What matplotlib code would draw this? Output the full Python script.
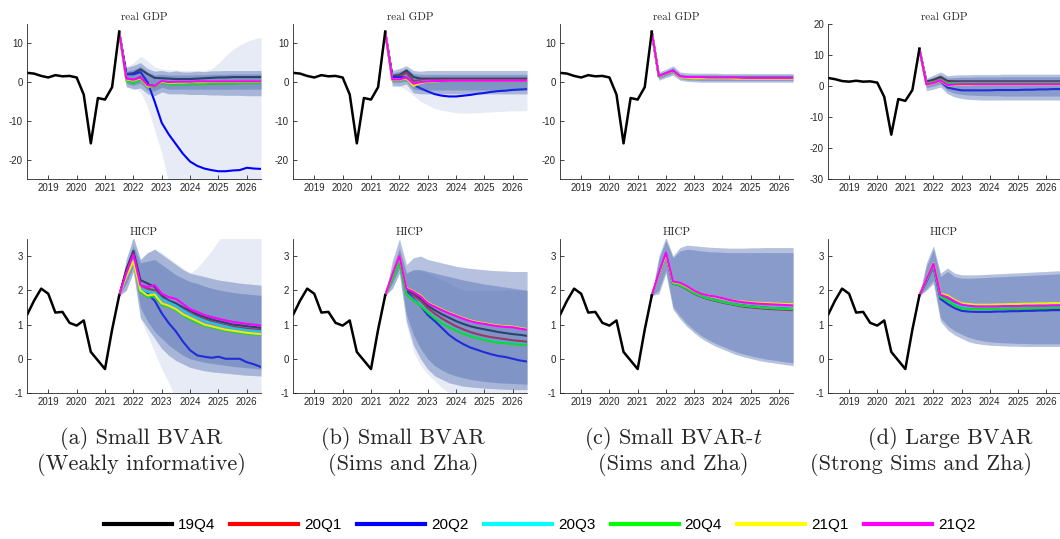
import matplotlib

matplotlib.use("Agg")
import matplotlib.pyplot as plt
import numpy as np
from matplotlib.lines import Line2D

plt.rcParams["axes.unicode_minus"] = False
plt.rcParams["mathtext.fontset"] = "cm"
plt.rcParams["font.family"] = ["Liberation Sans", "DejaVu Sans"]

VINTAGES = ["19Q4", "20Q1", "20Q2", "20Q3", "20Q4", "21Q1", "21Q2"]
VINTAGE_COLORS = ["#000000", "#ff0000", "#0000ff", "#00ffff", "#00ff00", "#ffff00", "#ff00ff"]

# observed data, 2018Q2 .. 2021Q3 (quarterly, y/y growth)
gdp_hist_small = [2.4, 2.2, 1.6, 1.2, 1.8, 1.5, 1.6, 1.2, -3.2, -15.8, -4.1, -4.5, -1.3, 13.0]
gdp_hist_large = [2.6, 2.2, 1.6, 1.4, 1.7, 1.4, 1.5, 1.1, -3.5, -15.7, -4.2, -4.8, -1.3, 12.0]
hicp_hist = [1.28, 1.7, 2.05, 1.9, 1.35, 1.37, 1.05, 0.97, 1.12, 0.2, -0.05, -0.3, 0.85, 1.85]

# ---------------- real GDP forecasts (one list per vintage) ----------------
gdp_a_lines = [
    [13.0, 2.1, 2.3, 3.3, 2.1, 1.1, 1.0, 0.9, 0.8, 0.8, 0.8, 0.9, 1.0, 1.1, 1.2, 1.2, 1.3, 1.3, 1.3, 1.3, 1.3],
    [13.0, 1.0, 0.6, 1.3, -0.7, -0.9, 0.0, -0.4, -0.5, -0.5, -0.5, -0.5, -0.4, -0.4, -0.3, -0.3, -0.3, -0.2, -0.2, -0.2, -0.2],
    [13.0, 2.0, 2.0, 2.6, 0.0, -5.0, -10.5, -13.5, -16.0, -18.5, -20.5, -21.6, -22.3, -22.7, -23.0, -23.0, -22.8, -22.7, -22.1, -22.3, -22.4],
    [13.0, 0.8, 0.3, 1.0, -1.0, -1.0, 0.0, -0.4, -0.3, -0.3, -0.3, -0.2, -0.2, -0.1, -0.1, 0.0, 0.0, 0.0, 0.0, 0.0, 0.0],
    [13.0, 0.4, -0.3, 0.7, -1.3, -1.2, -0.2, -0.6, -0.6, -0.6, -0.5, -0.5, -0.5, -0.4, -0.4, -0.4, -0.4, -0.3, -0.3, -0.3, -0.3],
    [13.0, 0.7, 0.4, 1.0, -1.1, -1.0, 0.1, -0.2, -0.1, -0.1, 0.0, 0.0, 0.0, 0.1, 0.1, 0.1, 0.1, 0.1, 0.1, 0.1, 0.1],
    [13.0, 0.9, 0.6, 1.2, -0.8, -1.0, 0.3, 0.0, 0.1, 0.1, 0.1, 0.2, 0.2, 0.2, 0.2, 0.2, 0.2, 0.2, 0.2, 0.2, 0.2],
]
gdp_a_outer = (
    [13.0, -1.2, -1.8, -1.5, -3.0, -3.5, -2.5, -3.0, -3.0, -3.0, -3.2, -3.2, -3.2, -3.3, -3.3, -3.4, -3.4, -3.4, -3.5, -3.5, -3.5],
    [13.0, 3.8, 4.3, 5.0, 3.5, 2.8, 3.0, 2.6, 2.9, 2.6, 2.6, 2.8, 2.7, 2.9, 2.9, 3.0, 3.0, 3.0, 3.0, 3.0, 3.0],
)
gdp_a_inner = (
    [13.0, -0.3, -0.8, -0.2, -2.0, -2.3, -1.3, -1.8, -1.8, -1.8, -1.8, -1.8, -1.8, -1.8, -1.8, -1.8, -1.8, -1.8, -1.8, -1.8, -1.8],
    [13.0, 2.8, 3.2, 4.0, 2.6, 1.8, 2.0, 1.8, 1.8, 1.8, 1.8, 1.9, 1.9, 2.0, 2.0, 2.0, 2.1, 2.1, 2.1, 2.1, 2.1],
)
gdp_a_wide = (
    [13.0, -1.0, -1.5, -2.5, -6.3, -12.4, -18.4, -26.0, -32.0, -40.0, -40.0, -40.0, -40.0, -40.0, -40.0, -40.0, -40.0, -40.0, -40.0, -40.0, -40.0],
    [13.0, 4.0, 5.0, 6.7, 5.5, 4.0, 3.4, 3.2, 3.1, 3.0, 3.0, 3.0, 3.0, 3.4, 4.9, 6.8, 8.4, 9.6, 10.5, 11.1, 11.6],
)

gdp_b_lines = [
    [13.0, 1.6, 1.8, 3.0, 1.3, 0.9, 0.9, 0.9, 0.9, 0.9, 0.9, 0.9, 0.9, 0.9, 0.9, 0.9, 0.9, 0.9, 0.9, 0.9, 0.9],
    [13.0, 1.3, 1.5, 2.4, 0.3, 0.5, 0.6, 0.6, 0.6, 0.6, 0.6, 0.6, 0.6, 0.6, 0.6, 0.6, 0.6, 0.6, 0.6, 0.6, 0.6],
    [13.0, 1.3, 1.3, 1.2, -0.7, -1.6, -2.4, -3.1, -3.5, -3.7, -3.7, -3.5, -3.3, -3.0, -2.8, -2.5, -2.3, -2.2, -2.0, -1.9, -1.8],
    [13.0, 0.6, 0.6, 1.0, -0.5, 0.1, 0.3, 0.3, 0.3, 0.3, 0.3, 0.3, 0.3, 0.3, 0.3, 0.3, 0.3, 0.3, 0.3, 0.3, 0.3],
    [13.0, 0.5, 0.5, 0.9, -0.7, 0.0, 0.2, 0.2, 0.2, 0.2, 0.2, 0.2, 0.2, 0.2, 0.2, 0.2, 0.2, 0.2, 0.2, 0.2, 0.2],
    [13.0, 0.6, 0.6, 1.0, -1.0, -0.2, 0.1, 0.2, 0.3, 0.3, 0.3, 0.3, 0.3, 0.3, 0.3, 0.3, 0.3, 0.3, 0.3, 0.3, 0.3],
    [13.0, 0.7, 0.7, 1.2, -0.4, 0.0, 0.2, 0.3, 0.3, 0.35, 0.35, 0.35, 0.35, 0.35, 0.35, 0.35, 0.35, 0.35, 0.35, 0.35, 0.35],
]
gdp_b_outer = (
    [13.0, -1.0, -1.0, -0.5, -2.8, -3.0, -3.0, -3.0, -3.0, -3.0, -3.0, -3.0, -3.0, -3.0, -3.0, -3.0, -3.0, -3.0, -3.0, -3.0, -3.0],
    [13.0, 3.0, 3.5, 4.2, 3.0, 2.8, 3.0, 3.0, 3.0, 3.0, 3.0, 3.0, 3.0, 3.0, 3.0, 3.0, 3.0, 3.0, 3.0, 3.0, 3.0],
)
gdp_b_inner = (
    [13.0, 0.0, 0.0, 0.2, -1.8, -2.0, -2.0, -2.0, -2.0, -2.0, -2.0, -2.0, -2.0, -2.0, -2.0, -2.0, -2.0, -2.0, -2.0, -2.0, -2.0],
    [13.0, 2.3, 2.7, 3.5, 2.2, 2.0, 2.0, 2.0, 2.0, 2.0, 2.0, 2.0, 2.0, 2.0, 2.0, 2.0, 2.0, 2.0, 2.0, 2.0, 2.0],
)
gdp_b_wide = (
    [13.0, -0.5, -1.0, -2.0, -3.5, -5.0, -5.9, -6.8, -7.3, -7.6, -7.9, -8.0, -8.0, -7.9, -7.8, -7.7, -7.6, -7.5, -7.4, -7.4, -7.4],
    [13.0, 2.5, 2.8, 3.5, 2.0, 1.5, 1.5, 1.5, 1.5, 1.5, 1.5, 1.5, 1.5, 1.5, 1.5, 1.5, 1.5, 1.5, 1.5, 1.5, 1.5],
)

gdp_c_common = [13.0, 1.5, 2.2, 2.9, 1.4, 1.2, 1.2, 1.2, 1.2, 1.2, 1.2, 1.1, 1.1, 1.1, 1.1, 1.1, 1.1, 1.1, 1.1, 1.1, 1.1]
gdp_c_21q1 = [13.0, 1.5, 2.2, 2.9, 1.3, 1.1, 1.0, 1.0, 1.0, 1.0, 1.0, 1.0, 0.9, 0.9, 0.9, 0.9, 0.9, 0.9, 0.9, 0.9, 0.9]
gdp_c_21q2 = [13.0, 1.6, 2.3, 3.0, 1.5, 1.3, 1.3, 1.3, 1.2, 1.2, 1.2, 1.2, 1.2, 1.1, 1.1, 1.1, 1.1, 1.1, 1.1, 1.1, 1.1]
gdp_c_lines = [gdp_c_common, gdp_c_common, gdp_c_common, gdp_c_common, gdp_c_common, gdp_c_21q1, gdp_c_21q2]
gdp_c_outer = (
    [13.0, 0.5, 1.2, 1.8, 0.5, 0.2, 0.1, 0.0, 0.0, 0.0, 0.0, 0.0, 0.0, 0.0, 0.0, 0.0, 0.0, 0.0, 0.0, 0.0, 0.0],
    [13.0, 2.6, 3.3, 4.2, 2.6, 2.4, 2.3, 2.3, 2.3, 2.3, 2.2, 2.2, 2.2, 2.2, 2.2, 2.2, 2.2, 2.2, 2.2, 2.2, 2.2],
)
gdp_c_inner = (
    [13.0, 0.9, 1.6, 2.3, 0.9, 0.6, 0.5, 0.4, 0.4, 0.4, 0.4, 0.4, 0.4, 0.4, 0.4, 0.4, 0.4, 0.4, 0.4, 0.4, 0.4],
    [13.0, 2.2, 2.9, 3.7, 2.1, 1.9, 1.9, 1.9, 1.9, 1.9, 1.8, 1.8, 1.8, 1.8, 1.8, 1.8, 1.8, 1.8, 1.8, 1.8, 1.8],
)

gdp_d_lines = [
    [12.0, 1.4, 2.0, 2.9, 1.6, 1.5, 1.5, 1.5, 1.5, 1.5, 1.5, 1.5, 1.5, 1.5, 1.5, 1.5, 1.5, 1.5, 1.5, 1.5, 1.5],
    [12.0, 1.0, 1.5, 2.4, 1.2, 1.1, 1.1, 1.1, 1.1, 1.1, 1.1, 1.1, 1.1, 1.1, 1.1, 1.1, 1.1, 1.1, 1.1, 1.1, 1.1],
    [12.0, 0.6, 1.0, 1.5, -0.5, -1.0, -1.4, -1.4, -1.4, -1.4, -1.4, -1.3, -1.3, -1.3, -1.3, -1.2, -1.2, -1.1, -1.1, -1.0, -1.0],
    [12.0, 0.8, 1.2, 2.0, 0.8, 0.9, 1.0, 1.0, 1.0, 1.0, 1.0, 1.0, 1.0, 1.0, 1.0, 1.0, 1.0, 1.0, 1.0, 1.0, 1.0],
    [12.0, 0.8, 1.2, 2.0, 0.7, 0.8, 0.9, 0.9, 0.9, 0.9, 0.9, 0.9, 0.9, 0.9, 0.9, 0.9, 0.9, 0.9, 0.9, 0.9, 0.9],
    [12.0, 0.4, 0.9, 1.6, 0.2, 0.3, 0.4, 0.4, 0.5, 0.5, 0.5, 0.5, 0.5, 0.5, 0.5, 0.5, 0.5, 0.5, 0.5, 0.5, 0.5],
    [12.0, 0.5, 1.0, 1.8, 0.3, 0.5, 0.6, 0.6, 0.6, 0.6, 0.6, 0.6, 0.6, 0.6, 0.6, 0.6, 0.6, 0.6, 0.6, 0.6, 0.6],
]
gdp_d_outer = (
    [12.0, -1.5, -1.0, -0.3, -2.5, -3.5, -4.0, -4.3, -4.4, -4.5, -4.5, -4.5, -4.5, -4.5, -4.5, -4.5, -4.5, -4.5, -4.5, -4.5, -4.5],
    [12.0, 2.5, 3.5, 4.5, 3.3, 3.5, 3.6, 3.6, 3.7, 3.7, 3.7, 3.7, 3.8, 3.8, 3.8, 3.8, 3.8, 3.8, 3.8, 3.8, 3.8],
)
gdp_d_inner = (
    [12.0, -0.5, 0.0, 0.7, -1.5, -2.3, -2.7, -2.9, -3.0, -3.1, -3.1, -3.1, -3.2, -3.2, -3.2, -3.2, -3.2, -3.2, -3.2, -3.2, -3.2],
    [12.0, 2.0, 2.8, 3.6, 2.6, 2.7, 2.8, 2.8, 2.9, 2.9, 2.9, 2.9, 3.0, 3.0, 3.0, 3.0, 3.0, 3.0, 3.0, 3.0, 3.0],
)

# ---------------- HICP forecasts ----------------
hicp_a_lines = [
    [1.85, 2.6, 3.15, 2.3, 2.2, 2.1, 1.85, 1.7, 1.62, 1.5, 1.4, 1.3, 1.22, 1.15, 1.1, 1.05, 1.0, 0.98, 0.95, 0.93, 0.9],
    [1.85, 2.5, 3.05, 2.15, 2.05, 2.0, 1.78, 1.66, 1.56, 1.44, 1.33, 1.24, 1.16, 1.09, 1.03, 0.98, 0.94, 0.91, 0.88, 0.86, 0.84],
    [1.85, 2.45, 3.0, 2.05, 1.9, 1.7, 1.33, 1.04, 0.8, 0.5, 0.25, 0.1, 0.06, 0.03, 0.06, 0.0, 0.0, 0.0, -0.1, -0.16, -0.24],
    [1.85, 2.45, 2.95, 2.05, 1.95, 1.95, 1.75, 1.65, 1.55, 1.42, 1.3, 1.2, 1.12, 1.05, 1.0, 0.95, 0.9, 0.87, 0.84, 0.82, 0.8],
    [1.85, 2.4, 2.85, 1.95, 1.8, 1.83, 1.58, 1.52, 1.42, 1.27, 1.15, 1.05, 0.97, 0.92, 0.87, 0.82, 0.79, 0.76, 0.73, 0.72, 0.7],
    [1.85, 2.4, 2.85, 2.0, 1.85, 1.88, 1.62, 1.55, 1.45, 1.3, 1.2, 1.1, 1.0, 0.95, 0.9, 0.85, 0.82, 0.79, 0.76, 0.74, 0.72],
    [1.85, 2.5, 3.05, 2.15, 2.1, 2.15, 1.9, 1.8, 1.75, 1.6, 1.45, 1.37, 1.28, 1.22, 1.17, 1.12, 1.08, 1.05, 1.02, 1.0, 0.97],
]
hicp_a_outer = (
    [1.85, 2.0, 2.55, 1.2, 0.9, 0.6, 0.3, 0.1, -0.05, -0.15, -0.25, -0.3, -0.35, -0.38, -0.4, -0.42, -0.44, -0.46, -0.48, -0.49, -0.5],
    [1.85, 2.9, 3.55, 2.9, 3.1, 3.2, 3.05, 2.9, 2.75, 2.6, 2.5, 2.45, 2.4, 2.35, 2.3, 2.27, 2.24, 2.21, 2.19, 2.17, 2.15],
)
hicp_a_inner = (
    [1.85, 2.2, 2.7, 1.5, 1.1, 0.8, 0.6, 0.4, 0.25, 0.1, 0.0, -0.05, -0.1, -0.13, -0.16, -0.19, -0.22, -0.24, -0.26, -0.28, -0.3],
    [1.85, 2.7, 3.3, 2.8, 2.85, 2.9, 2.75, 2.6, 2.45, 2.35, 2.25, 2.2, 2.12, 2.06, 2.01, 1.97, 1.94, 1.91, 1.89, 1.87, 1.85],
)
hicp_a_wide = (
    [1.85, 2.0, 2.55, 1.2, 0.7, 0.2, -0.3, -0.7, -1.2, -1.6, -2.0, -2.0, -2.0, -2.0, -2.0, -2.0, -2.0, -2.0, -2.0, -2.0, -2.0],
    [1.85, 2.9, 3.55, 2.9, 3.1, 3.2, 3.1, 2.95, 2.8, 2.65, 2.5, 2.65, 2.9, 3.15, 3.45, 3.75, 4.0, 4.2, 4.4, 4.5, 4.6],
)

hicp_b_lines = [
    [1.85, 2.45, 3.0, 2.0, 1.9, 1.75, 1.55, 1.42, 1.3, 1.2, 1.1, 1.02, 0.95, 0.9, 0.86, 0.82, 0.78, 0.75, 0.72, 0.7, 0.67],
    [1.85, 2.4, 2.95, 1.95, 1.85, 1.7, 1.48, 1.32, 1.18, 1.06, 0.95, 0.86, 0.78, 0.72, 0.67, 0.63, 0.6, 0.57, 0.54, 0.52, 0.5],
    [1.85, 2.4, 2.95, 1.95, 1.75, 1.55, 1.28, 1.1, 0.9, 0.7, 0.55, 0.43, 0.33, 0.26, 0.19, 0.13, 0.08, 0.05, 0.0, -0.05, -0.08],
    [1.85, 2.35, 2.85, 1.9, 1.72, 1.57, 1.37, 1.2, 1.05, 0.94, 0.84, 0.75, 0.68, 0.62, 0.57, 0.52, 0.49, 0.47, 0.45, 0.43, 0.42],
    [1.85, 2.3, 2.8, 1.88, 1.7, 1.55, 1.35, 1.18, 1.03, 0.92, 0.82, 0.73, 0.66, 0.6, 0.55, 0.5, 0.47, 0.45, 0.43, 0.41, 0.4],
    [1.85, 2.45, 3.0, 2.07, 1.97, 1.85, 1.64, 1.54, 1.44, 1.35, 1.27, 1.19, 1.12, 1.07, 1.04, 1.0, 0.97, 0.95, 0.94, 0.9, 0.87],
    [1.85, 2.45, 3.0, 2.05, 1.95, 1.82, 1.62, 1.52, 1.42, 1.33, 1.25, 1.17, 1.1, 1.05, 1.02, 0.98, 0.95, 0.93, 0.92, 0.88, 0.85],
]
hicp_b_outer = (
    [1.85, 2.05, 2.5, 1.1, 0.4, 0.0, -0.3, -0.5, -0.6, -0.7, -0.75, -0.8, -0.82, -0.84, -0.86, -0.87, -0.88, -0.89, -0.9, -0.9, -0.9],
    [1.85, 2.85, 3.5, 2.75, 2.95, 3.0, 2.9, 2.85, 2.8, 2.75, 2.7, 2.67, 2.64, 2.62, 2.6, 2.58, 2.57, 2.56, 2.55, 2.55, 2.55],
)
hicp_b_inner = (
    [1.85, 2.2, 2.65, 1.3, 0.7, 0.3, 0.0, -0.2, -0.33, -0.43, -0.5, -0.55, -0.6, -0.63, -0.66, -0.68, -0.7, -0.71, -0.72, -0.73, -0.74],
    [1.85, 2.6, 3.2, 2.5, 2.6, 2.6, 2.55, 2.5, 2.45, 2.4, 2.35, 2.3, 2.26, 2.22, 2.18, 2.15, 2.12, 2.09, 2.06, 2.03, 2.0],
)
hicp_b_wide = (
    [1.85, 2.05, 2.5, 1.0, 0.2, -0.2, -0.45, -0.65, -0.85, -1.0, -1.1, -1.2, -1.25, -1.3, -1.3, -1.3, -1.3, -1.3, -1.3, -1.3, -1.3],
    [1.85, 2.7, 3.3, 2.5, 2.6, 2.6, 2.5, 2.4, 2.3, 2.2, 2.1, 2.0, 2.0, 2.0, 2.0, 2.0, 2.0, 2.0, 2.0, 2.0, 2.0],
)

hicp_c_common = [1.85, 2.45, 3.05, 2.2, 2.15, 2.05, 1.92, 1.83, 1.76, 1.71, 1.66, 1.62, 1.58, 1.55, 1.53, 1.51, 1.49, 1.48, 1.47, 1.46, 1.45]
hicp_c_20q1 = [1.85, 2.45, 3.05, 2.2, 2.14, 2.03, 1.9, 1.81, 1.74, 1.69, 1.64, 1.6, 1.56, 1.52, 1.5, 1.48, 1.46, 1.45, 1.44, 1.43, 1.42]
hicp_c_21q1 = [1.85, 2.45, 3.05, 2.24, 2.2, 2.1, 1.98, 1.9, 1.85, 1.81, 1.76, 1.72, 1.69, 1.67, 1.65, 1.64, 1.63, 1.62, 1.61, 1.6, 1.6]
hicp_c_21q2 = [1.85, 2.5, 3.1, 2.26, 2.22, 2.12, 1.99, 1.9, 1.85, 1.82, 1.77, 1.72, 1.68, 1.65, 1.63, 1.61, 1.6, 1.59, 1.58, 1.57, 1.56]
hicp_c_lines = [hicp_c_common, hicp_c_20q1, hicp_c_common, hicp_c_common, hicp_c_common, hicp_c_21q1, hicp_c_21q2]
hicp_c_outer = (
    [1.85, 1.9, 2.5, 1.45, 1.17, 0.94, 0.76, 0.6, 0.48, 0.37, 0.29, 0.2, 0.12, 0.06, 0.01, -0.04, -0.08, -0.11, -0.14, -0.17, -0.2],
    [1.85, 3.0, 3.55, 3.0, 3.25, 3.32, 3.3, 3.28, 3.26, 3.25, 3.24, 3.23, 3.23, 3.23, 3.24, 3.24, 3.25, 3.25, 3.25, 3.25, 3.25],
)
hicp_c_inner = (
    [1.85, 2.0, 2.6, 1.53, 1.25, 1.02, 0.84, 0.68, 0.56, 0.45, 0.37, 0.28, 0.2, 0.14, 0.09, 0.04, 0.0, -0.03, -0.06, -0.09, -0.12],
    [1.85, 2.9, 3.45, 2.95, 3.15, 3.2, 3.18, 3.15, 3.13, 3.12, 3.11, 3.1, 3.1, 3.1, 3.1, 3.1, 3.1, 3.1, 3.1, 3.1, 3.1],
)

hicp_d_lines = [
    [1.85, 2.3, 2.75, 1.85, 1.75, 1.65, 1.58, 1.55, 1.52, 1.5, 1.5, 1.5, 1.5, 1.5, 1.49, 1.49, 1.48, 1.48, 1.47, 1.47, 1.46],
    [1.85, 2.3, 2.72, 1.82, 1.72, 1.6, 1.52, 1.49, 1.48, 1.47, 1.47, 1.47, 1.47, 1.47, 1.47, 1.47, 1.47, 1.47, 1.47, 1.47, 1.47],
    [1.85, 2.25, 2.7, 1.75, 1.6, 1.48, 1.4, 1.38, 1.37, 1.37, 1.37, 1.38, 1.38, 1.39, 1.39, 1.4, 1.4, 1.41, 1.41, 1.42, 1.42],
    [1.85, 2.3, 2.75, 1.82, 1.72, 1.6, 1.53, 1.5, 1.5, 1.5, 1.5, 1.5, 1.5, 1.5, 1.51, 1.51, 1.51, 1.51, 1.52, 1.52, 1.52],
    [1.85, 2.28, 2.72, 1.8, 1.7, 1.55, 1.48, 1.45, 1.45, 1.45, 1.46, 1.46, 1.46, 1.47, 1.47, 1.47, 1.48, 1.48, 1.48, 1.49, 1.49],
    [1.85, 2.33, 2.8, 1.9, 1.85, 1.72, 1.62, 1.6, 1.58, 1.58, 1.58, 1.59, 1.59, 1.6, 1.6, 1.61, 1.61, 1.62, 1.62, 1.63, 1.63],
    [1.85, 2.32, 2.78, 1.87, 1.8, 1.68, 1.58, 1.55, 1.53, 1.53, 1.53, 1.53, 1.54, 1.54, 1.54, 1.55, 1.55, 1.55, 1.55, 1.56, 1.56],
]
hicp_d_outer = (
    [1.85, 2.0, 2.2, 1.1, 0.85, 0.7, 0.6, 0.5, 0.45, 0.42, 0.4, 0.39, 0.38, 0.37, 0.37, 0.36, 0.36, 0.36, 0.36, 0.36, 0.36],
    [1.85, 2.8, 3.3, 2.5, 2.65, 2.5, 2.45, 2.45, 2.45, 2.46, 2.47, 2.48, 2.49, 2.5, 2.51, 2.52, 2.53, 2.54, 2.55, 2.56, 2.57],
)
hicp_d_inner = (
    [1.85, 2.05, 2.3, 1.2, 0.97, 0.82, 0.72, 0.63, 0.57, 0.53, 0.5, 0.48, 0.47, 0.46, 0.45, 0.45, 0.44, 0.44, 0.44, 0.44, 0.44],
    [1.85, 2.7, 3.2, 2.4, 2.55, 2.4, 2.35, 2.35, 2.36, 2.37, 2.38, 2.39, 2.4, 2.41, 2.42, 2.43, 2.44, 2.45, 2.46, 2.47, 2.48],
)

captions = [
    ("(a) Small BVAR", "(Weakly informative)"),
    ("(b) Small BVAR", "(Sims and Zha)"),
    ("(c) Small BVAR-$t$", "(Sims and Zha)"),
    ("(d) Large BVAR", "(Strong Sims and Zha)"),
]

BAND_COLOR = "#4d6bb3"
TEXT_COLOR = "#262626"
W, H = 1060, 539

hist_x = 2018.25 + 0.25 * np.arange(len(hicp_hist))
fc_x = 2021.5 + 0.25 * np.arange(21)


def draw_panel(ax, hist, lines, outer, inner, wide, ylim, yticks, title):
    for k, color in enumerate(VINTAGE_COLORS):
        # each vintage adds a translucent fan on top of the older paths,
        # so earlier vintages end up washed out under the later fans
        z = 2 + k
        if wide is not None and k == 2:
            ax.fill_between(fc_x, wide[0], wide[1], color=BAND_COLOR,
                            alpha=0.13, lw=0, zorder=z)
        for lo, hi in (outer, inner):
            ax.fill_between(fc_x, lo, hi, color=BAND_COLOR, alpha=0.07,
                            lw=0, zorder=z)
        ax.plot(fc_x, lines[k], color=color, lw=1.5,
                solid_joinstyle="round", zorder=z + 0.5)
    ax.plot(hist_x, hist, color="black", lw=1.8, solid_joinstyle="round", zorder=20)

    ax.set_xlim(2018.25, 2026.5)
    ax.set_ylim(*ylim)
    ax.set_xticks(range(2019, 2027))
    ax.set_yticks(yticks)
    ax.set_title(title, family="cmr10", fontsize=8, pad=3, color=TEXT_COLOR)
    for side in ("top", "right"):
        ax.spines[side].set_visible(False)
    for side in ("left", "bottom"):
        ax.spines[side].set_linewidth(0.6)
        ax.spines[side].set_color(TEXT_COLOR)
        ax.spines[side].set_zorder(30)
    ax.tick_params(direction="in", length=3, width=0.6, labelsize=7,
                   colors=TEXT_COLOR, pad=3)


fig = plt.figure(figsize=(W / 100, H / 100), dpi=100)

col_left = [27, 293, 560, 828]
col_width = [234, 234, 233, 232]
top_row = (24, 179)
bottom_row = (239, 393)

gdp_panels = [
    (gdp_hist_small, gdp_a_lines, gdp_a_outer, gdp_a_inner, gdp_a_wide, (-25, 15), [-20, -10, 0, 10]),
    (gdp_hist_small, gdp_b_lines, gdp_b_outer, gdp_b_inner, gdp_b_wide, (-25, 15), [-20, -10, 0, 10]),
    (gdp_hist_small, gdp_c_lines, gdp_c_outer, gdp_c_inner, None, (-25, 15), [-20, -10, 0, 10]),
    (gdp_hist_large, gdp_d_lines, gdp_d_outer, gdp_d_inner, None, (-30, 20), [-30, -20, -10, 0, 10, 20]),
]
hicp_panels = [
    (hicp_hist, hicp_a_lines, hicp_a_outer, hicp_a_inner, hicp_a_wide),
    (hicp_hist, hicp_b_lines, hicp_b_outer, hicp_b_inner, hicp_b_wide),
    (hicp_hist, hicp_c_lines, hicp_c_outer, hicp_c_inner, None),
    (hicp_hist, hicp_d_lines, hicp_d_outer, hicp_d_inner, None),
]


def px_axes(left, width, top, bottom):
    return fig.add_axes([left / W, 1 - bottom / H, width / W, (bottom - top) / H])


for j in range(4):
    ax = px_axes(col_left[j], col_width[j], *top_row)
    hist, lines, outer, inner, wide, ylim, yticks = gdp_panels[j]
    draw_panel(ax, hist, lines, outer, inner, wide, ylim, yticks, "real GDP")

    ax = px_axes(col_left[j], col_width[j], *bottom_row)
    hist, lines, outer, inner, wide = hicp_panels[j]
    draw_panel(ax, hist, lines, outer, inner, wide, (-1, 3.5), [-1, 0, 1, 2, 3], "HICP")

caption_x1 = [141, 403, 673, 950]
caption_x2 = [141, 403, 673, 921]
for j, (line1, line2) in enumerate(captions):
    fig.text(caption_x1[j] / W, 1 - 438 / H, line1, ha="center", va="center",
             family="cmr10", fontsize=16, color=TEXT_COLOR)
    fig.text(caption_x2[j] / W, 1 - 465 / H, line2, ha="center", va="center",
             family="cmr10", fontsize=16, color=TEXT_COLOR)

handles = [Line2D([], [], color=c, lw=3) for c in VINTAGE_COLORS]
fig.legend(handles, VINTAGES, loc="center", bbox_to_anchor=(539.5 / W, 1 - 525 / H),
           ncol=7, frameon=False, fontsize=11, handlelength=4.45,
           handletextpad=0.4, columnspacing=1.0)

fig.savefig("out.png", dpi=100)
